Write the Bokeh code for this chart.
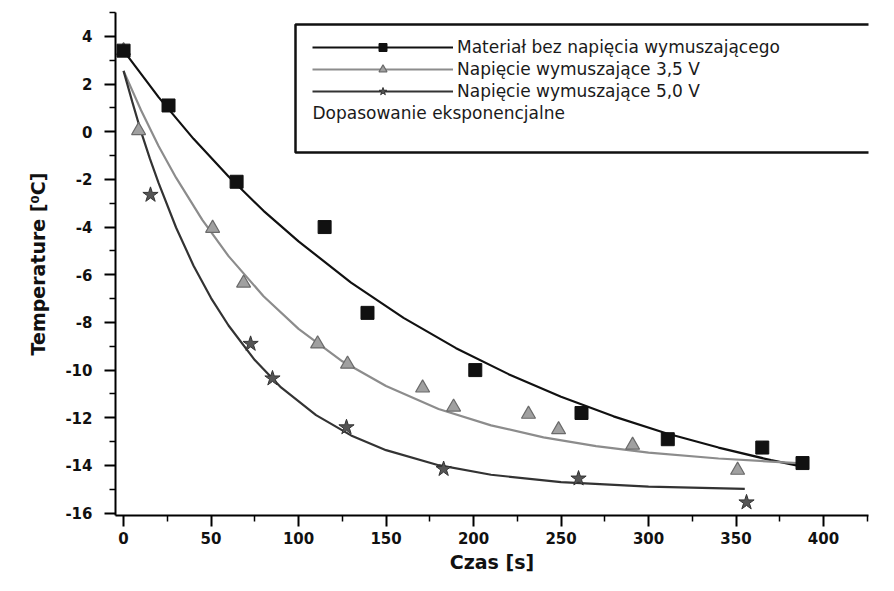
from bokeh.plotting import figure
from bokeh.models import FixedTicker, Legend, LegendItem, Label, BoxAnnotation, Range1d
from bokeh.embed import file_html
from bokeh.resources import INLINE

# ---------------- data ----------------
series_names = ["Materiał bez napięcia wymuszającego",
                "Napięcie wymuszające 3,5 V",
                "Napięcie wymuszające 5,0 V"]
fit_label = "Dopasowanie eksponencjalne"

# measured points
t0_x = [0, 25.7, 64.6, 114.9, 139.4, 201, 261.7, 311, 365, 388]
t0_y = [3.4, 1.1, -2.1, -4.0, -7.6, -10.0, -11.8, -12.9, -13.25, -13.9]

t35_x = [0, 8.6, 50.9, 68.6, 110.9, 128, 170.9, 188.6, 231.4, 248.6, 290.9, 350.9]
t35_y = [3.4, 0.05, -4.05, -6.35, -8.9, -9.75, -10.75, -11.55, -11.85, -12.5, -13.15, -14.2]

t50_x = [15.4, 72.6, 85.1, 127.4, 182.9, 260, 356]
t50_y = [-2.65, -8.9, -10.35, -12.4, -14.15, -14.55, -15.55]

# exponential fit curves
fit0_x = [0, 20, 40, 60, 80, 100, 130, 160, 190, 220, 250, 280, 310, 340, 370, 388]
fit0_y = [3.4, 1.45, -0.3, -1.88, -3.32, -4.6, -6.33, -7.81, -9.08, -10.17, -11.12,
          -11.94, -12.65, -13.25, -13.78, -14.05]

fit35_x = [0, 10, 20, 30, 45, 60, 80, 100, 125, 150, 180, 210, 240, 270, 300, 340, 385]
fit35_y = [2.55, 0.9, -0.6, -1.93, -3.7, -5.22, -6.9, -8.27, -9.63, -10.67, -11.63,
           -12.32, -12.82, -13.19, -13.46, -13.71, -13.9]

fit50_x = [0, 5, 10, 15, 20, 30, 40, 50, 60, 75, 90, 110, 130, 150, 180, 210, 250, 300, 355]
fit50_y = [2.55, 1.25, 0.0, -1.12, -2.15, -4.02, -5.62, -6.98, -8.13, -9.58, -10.73,
           -11.89, -12.74, -13.36, -13.99, -14.39, -14.7, -14.89, -14.98]

x_ticks = [0, 50, 100, 150, 200, 250, 300, 350, 400]
x_minor = [25, 75, 125, 175, 225, 275, 325, 375, 425]
y_ticks = [4, 2, 0, -2, -4, -6, -8, -10, -12, -14, -16]
y_minor = [5, 3, 1, -1, -3, -5, -7, -9, -11, -13, -15]

# ---------------- figure ----------------
p = figure(width=878, height=575, output_backend="svg", toolbar_location=None,
           x_range=Range1d(-4.6, 425.7), y_range=Range1d(-16.1, 5.0),
           min_border_left=115, min_border_right=10, min_border_top=12, min_border_bottom=60)
p.outline_line_color = None
p.grid.visible = False
p.background_fill_color = "white"
p.border_fill_color = "white"

BLACK = "#111111"
GRAY = "#8c8c8c"
DARK = "#333333"

l0 = p.line(fit0_x, fit0_y, line_color=BLACK, line_width=2.2)
l35 = p.line(fit35_x, fit35_y, line_color=GRAY, line_width=2.2)
l50 = p.line(fit50_x, fit50_y, line_color=DARK, line_width=2.2)

s35 = p.scatter(t35_x, t35_y, marker="triangle", size=14, fill_color="#a0a0a0",
                line_color="#6a6a6a", line_width=1.2)
s50 = p.scatter(t50_x, t50_y, marker="star", size=16, fill_color="#555555",
                line_color="#333333", line_width=1)
s0 = p.scatter(t0_x, t0_y, marker="square", size=13, fill_color=BLACK, line_color=BLACK)

# axes
for ax, ticks, minor in ((p.xaxis[0], x_ticks, x_minor), (p.yaxis[0], y_ticks, y_minor)):
    ax.ticker = FixedTicker(ticks=ticks, minor_ticks=minor)
    ax.major_label_overrides = {t: str(t) for t in ticks}
    ax.axis_line_width = 2
    ax.axis_line_color = "black"
    ax.major_tick_line_width = 2
    ax.minor_tick_line_width = 1.5
    ax.major_tick_in = 0
    ax.major_tick_out = 11
    ax.minor_tick_in = 0
    ax.minor_tick_out = 6
    ax.major_label_text_font = "DejaVu Sans"
    ax.major_label_text_font_style = "bold"
    ax.major_label_text_font_size = "15px"
    ax.major_label_text_color = "#111111"
    ax.axis_label_text_font = "DejaVu Sans"
    ax.axis_label_text_font_style = "bold"
    ax.axis_label_text_color = "#111111"

p.xaxis.axis_label = "Czas [s]"
p.xaxis.axis_label_text_font_size = "19px"
p.xaxis.major_label_standoff = 5
p.xaxis.axis_label_standoff = 4

p.yaxis.axis_label = "Temperature [⁰C]"
p.yaxis.axis_label_text_font_size = "19px"
p.yaxis.major_label_standoff = 12
p.yaxis.axis_label_standoff = 13

# legend frame
box = BoxAnnotation(left=180, right=757, top=491, bottom=363,
                    left_units="screen", right_units="screen",
                    top_units="screen", bottom_units="screen",
                    fill_alpha=0, line_color="#111111", line_alpha=1.0, line_width=2.5)
p.add_layout(box)

legend = Legend(items=[
    LegendItem(label=series_names[0], renderers=[l0, s0]),
    LegendItem(label=series_names[1], renderers=[l35, s35]),
    LegendItem(label=series_names[2], renderers=[l50, s50]),
], location=(197, 414))
legend.glyph_width = 141
legend.glyph_height = 20
legend.label_height = 20
legend.spacing = 2
legend.padding = 0
legend.margin = 0
legend.label_standoff = 4
legend.border_line_alpha = 0
legend.background_fill_alpha = 0
legend.label_text_font = "DejaVu Sans"
legend.label_text_font_size = "17px"
legend.label_text_color = "#1a1a1a"
p.add_layout(legend)

fit_text = Label(x=197, y=403, x_units="screen", y_units="screen", text=fit_label,
                 text_font="DejaVu Sans", text_font_size="17px", text_color="#1a1a1a",
                 text_baseline="middle")
p.add_layout(fit_text)

open("out.html", "w").write(file_html(p, INLINE))
